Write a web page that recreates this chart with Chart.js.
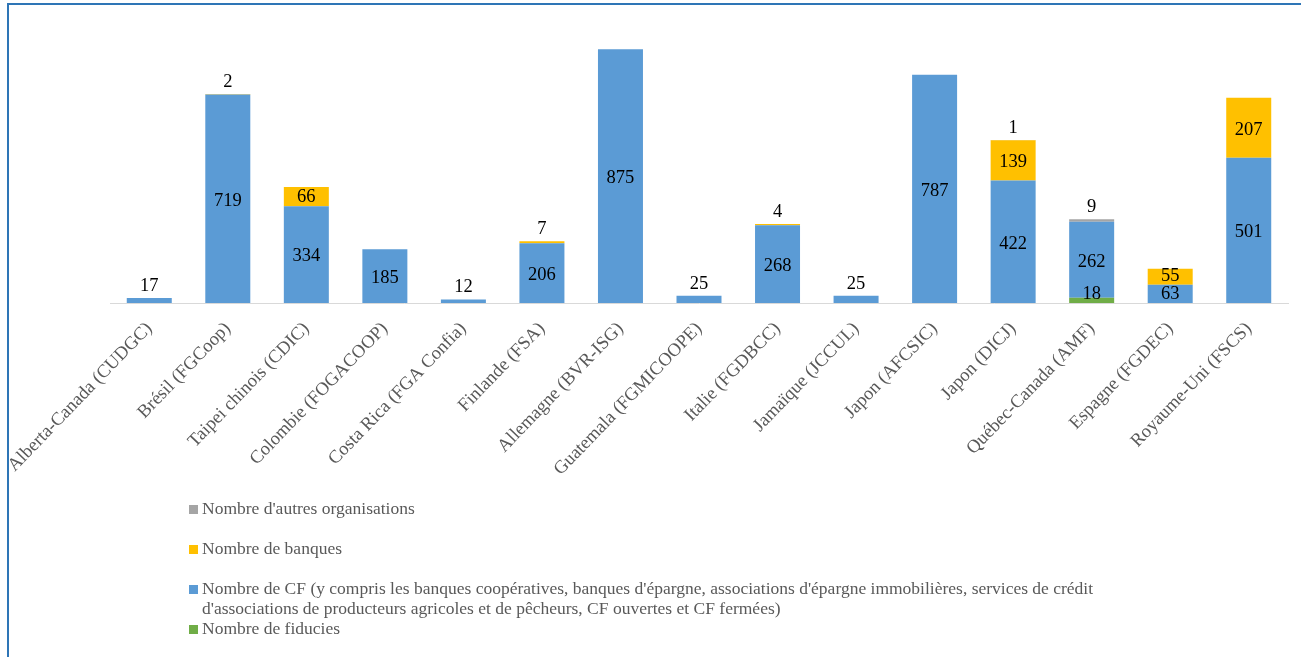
<!DOCTYPE html>
<html>
<head>
<meta charset="utf-8">
<script src="https://cdn.jsdelivr.net/npm/chart.js@4.4.1/dist/chart.umd.min.js"></script>
<style>
  html, body { margin: 0; padding: 0; background: #fff; overflow: hidden; }
  body { width: 1301px; height: 657px; position: relative; }
  #frame {
    position: absolute; left: 7px; top: 3px; width: 1400px; height: 700px;
    border-top: 2px solid #2E75B6; border-left: 2px solid #2E75B6;
  }
  #box { position: absolute; left: 0; top: 0; width: 1301px; height: 657px; }
  .leg {
    position: absolute; left: 202px; width: 915px;
    font-family: 'Liberation Serif', 'Times New Roman', serif;
    font-size: 17.5px; line-height: 20px; color: #595959;
    text-indent: -13px;
  }
  .leg i {
    display: inline-block; width: 9px; height: 9px; margin-right: 4px;
    vertical-align: 0px;
  }
</style>
</head>
<body>
<div id="frame"></div>
<div id="box"><canvas id="myChart"></canvas></div>
<div id="legend"></div>
<script>
const categories = [
  'Alberta-Canada (CUDGC)', 'Brésil (FGCoop)', 'Taipei chinois (CDIC)',
  'Colombie (FOGACOOP)', 'Costa Rica (FGA Confia)', 'Finlande (FSA)',
  'Allemagne (BVR-ISG)', 'Guatemala (FGMICOOPE)', 'Italie (FGDBCC)',
  'Jamaïque (JCCUL)', 'Japon (AFCSIC)', 'Japon (DICJ)',
  'Québec-Canada (AMF)', 'Espagne (FGDEC)', 'Royaume-Uni (FSCS)'
];
const fiducies = [0, 0, 0, 0, 0, 0, 0, 0, 0, 0, 0, 0, 18, 0, 0];
const cf = [17, 719, 334, 185, 12, 206, 875, 25, 268, 25, 787, 422, 262, 63, 501];
const banques = [0, 2, 66, 0, 0, 7, 0, 0, 4, 0, 0, 139, 0, 55, 207];
const autres = [0, 0, 0, 0, 0, 0, 0, 0, 0, 0, 0, 1, 9, 0, 0];

const serif = "'Liberation Serif', 'Times New Roman', serif";

// writes the value inside each segment, or above the stack when it is too thin
const valueLabels = {
  id: 'valueLabels',
  afterDatasetsDraw(chart) {
    const ctx = chart.ctx;
    const sets = chart.data.datasets;
    ctx.save();
    ctx.font = '18.5px ' + serif;
    ctx.fillStyle = '#000';
    ctx.textAlign = 'center';
    ctx.textBaseline = 'middle';
    sets.forEach((ds, d) => {
      const meta = chart.getDatasetMeta(d);
      meta.data.forEach((bar, i) => {
        const v = ds.data[i];
        if (!v) return;
        let top = true;
        for (let k = d + 1; k < sets.length; k++) {
          if (sets[k].data[i]) top = false;
        }
        const h = bar.base - bar.y;
        let y;
        if (top && h < 12) {
          y = bar.y - 12;
        } else {
          y = Math.min((bar.y + bar.base) / 2 + 2, bar.base - 9);
        }
        ctx.fillText(String(v), bar.x, y);
      });
    });
    ctx.restore();
  }
};

function displayChart() {
  const ctx = document.getElementById('myChart');
  return new Chart(ctx, {
    type: 'bar',
    data: {
      labels: categories,
      datasets: [
        { label: 'Nombre de fiducies', data: fiducies, backgroundColor: '#70AD47' },
        { label: "Nombre de CF (y compris les banques coopératives, banques d'épargne, associations d'épargne immobilières, services de crédit d'associations de producteurs agricoles et de pêcheurs, CF ouvertes et CF fermées)", data: cf, backgroundColor: '#5B9BD5' },
        { label: 'Nombre de banques', data: banques, backgroundColor: '#FFC000' },
        { label: "Nombre d'autres organisations", data: autres, backgroundColor: '#A5A5A5' }
      ]
    },
    options: {
      responsive: true,
      maintainAspectRatio: false,
      animation: false,
      barPercentage: 0.573,
      categoryPercentage: 1,
      layout: { padding: { left: 110, right: 13, top: 13, bottom: 0 } },
      plugins: {
        legend: { display: false },
        tooltip: { enabled: false }
      },
      scales: {
        x: {
          stacked: true,
          grid: { display: false },
          border: { display: true, color: '#D9D9D9', width: 1 },
          ticks: {
            autoSkip: false,
            minRotation: 46,
            maxRotation: 46,
            padding: 7,
            color: '#595959',
            font: { family: serif, size: 18.5 }
          },
          afterFit(scale) { scale.height = 354; }
        },
        y: {
          stacked: true,
          display: false,
          min: 0,
          max: 1000
        }
      }
    },
    plugins: [valueLabels]
  });
}

const chart = displayChart();

// legend drawn as html so the long label can wrap
const legend = document.getElementById('legend');
chart.data.datasets.slice().reverse().forEach((ds, n) => {
  const item = document.createElement('div');
  item.className = 'leg';
  item.style.top = (498 + n * 40) + 'px';
  const sw = document.createElement('i');
  sw.style.background = ds.backgroundColor;
  item.appendChild(sw);
  item.appendChild(document.createTextNode(ds.label));
  legend.appendChild(item);
});
</script>
</body>
</html>
